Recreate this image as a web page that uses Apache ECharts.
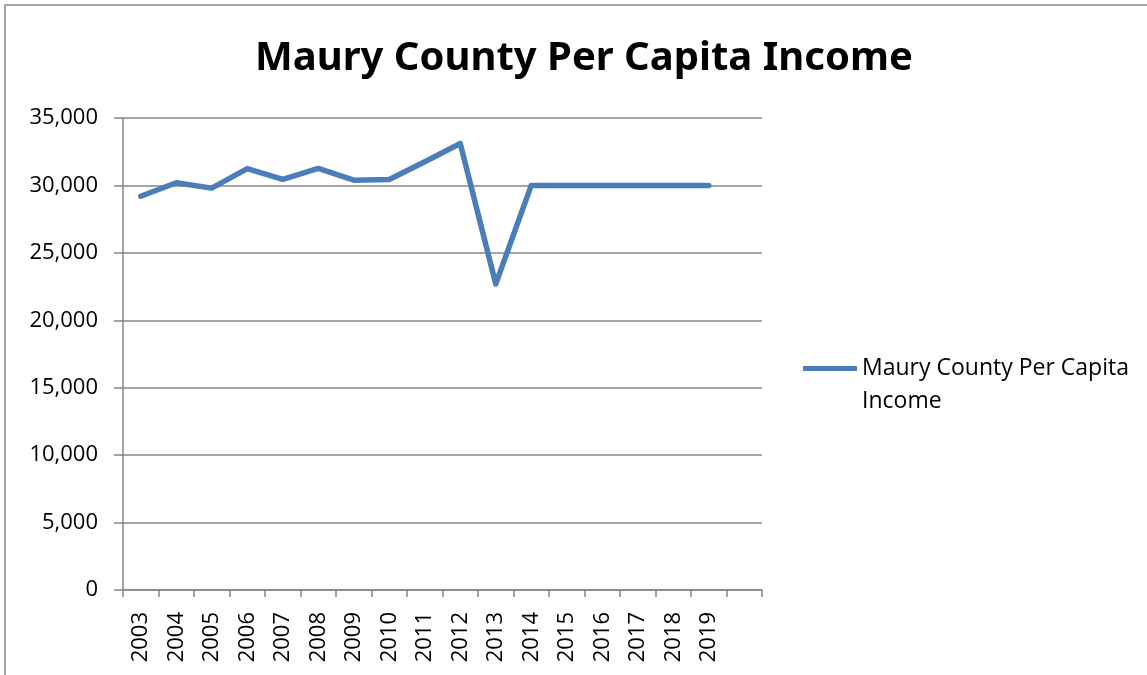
<!DOCTYPE html>
<html>
<head>
<meta charset="utf-8">
<script src="https://cdn.jsdelivr.net/npm/echarts@6/dist/echarts.min.js"></script>
<style>
html, body { margin: 0; padding: 0; background: #fff; }
#chart { width: 1147px; height: 675px; }
</style>
</head>
<body>
<div id="chart"></div>
<script>
// years on the x axis (Excel leaves one empty slot at the end)
const years = ['2003', '2004', '2005', '2006', '2007', '2008', '2009', '2010', '2011',
  '2012', '2013', '2014', '2015', '2016', '2017', '2018', '2019', '']
// per capita income
const income = [29200, 30200, 29800, 31250, 30450, 31260, 30390, 30440, 31750,
  33110, 22690, 30000, 30000, 30000, 30000, 30000, 30000]
const seriesName = 'Maury County Per Capita Income'

const fontFam = '"Open Sans", "Noto Sans", sans-serif'
let myChart = echarts.init(document.getElementById('chart'))

let option = {
  backgroundColor: '#fff',
  animation: false,
  title: {
    text: 'Maury County Per Capita Income',
    left: 250,
    top: 34,
    textStyle: { fontFamily: '"Noto Sans", sans-serif', fontWeight: 'bold', fontSize: 40, color: '#000' }
  },
  graphic: [{
    type: 'rect',
    shape: { x: 5, y: 5, width: 1150, height: 680 },
    style: { fill: 'none', stroke: '#888', lineWidth: 1.5 },
    silent: true
  }, {
    // Excel wraps the legend name onto a second line
    type: 'text',
    left: 862,
    top: 390,
    style: { text: 'Income', fontFamily: fontFam, fontSize: 23, fill: '#000' },
    silent: true
  }],
  legend: {
    orient: 'vertical',
    left: 803,
    top: 357,
    padding: 0,
    icon: 'rect',
    itemWidth: 54,
    itemHeight: 5,
    formatter: function () { return 'Maury County Per Capita' },
    textStyle: { fontFamily: fontFam, fontSize: 23, color: '#000' }
  },
  grid: { left: 123, right: 385, top: 118, bottom: 85 },
  xAxis: {
    type: 'category',
    data: years,
    boundaryGap: true,
    axisLine: { lineStyle: { color: '#878787', width: 1.5 } },
    axisTick: { show: true, interval: 0, length: 7, lineStyle: { color: '#878787', width: 1.5 } },
    axisLabel: { interval: 0, rotate: 90, margin: 22, fontFamily: fontFam, fontSize: 22, color: '#000' }
  },
  yAxis: {
    type: 'value',
    min: 0,
    max: 35000,
    interval: 5000,
    axisLine: { show: true, lineStyle: { color: '#878787', width: 1.5 } },
    axisTick: { show: true, length: 9, lineStyle: { color: '#878787', width: 1.5 } },
    splitLine: { lineStyle: { color: '#878787', width: 1.5 } },
    axisLabel: {
      margin: 25,
      fontFamily: fontFam,
      fontSize: 22,
      color: '#000',
      formatter: function (v) { return v.toLocaleString('en-US') }
    }
  },
  series: [{
    name: seriesName,
    type: 'line',
    data: income,
    symbol: 'none',
    lineStyle: { color: '#4a7ebb', width: 5.5, cap: 'round', join: 'round' },
    itemStyle: { color: '#4a7ebb' }
  }]
}

myChart.setOption(option)
</script>
</body>
</html>
